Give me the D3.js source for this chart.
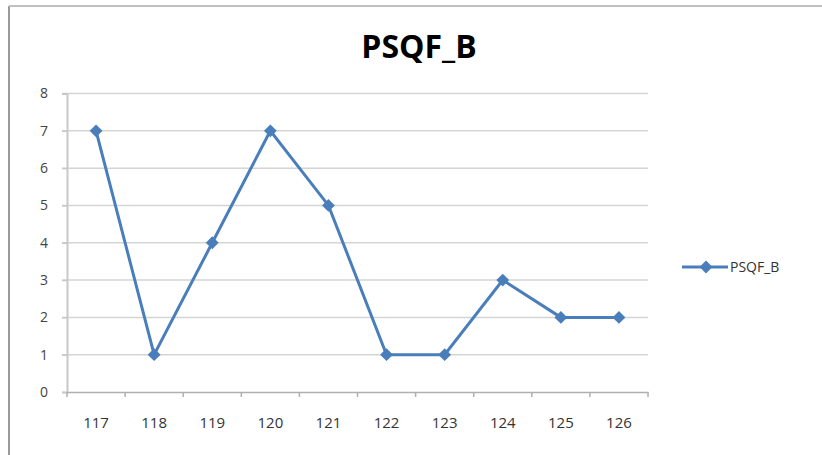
<!DOCTYPE html>
<html>
<head>
<meta charset="utf-8">
<script src="https://cdn.jsdelivr.net/npm/d3@7"></script>
<style>
  body { margin: 0; background: #fff; }
  text { font-family: "Open Sans", "DejaVu Sans", sans-serif; }
</style>
</head>
<body>
<div id="chart"></div>
<script>
// data
var categories = ["117", "118", "119", "120", "121", "122", "123", "124", "125", "126"];
var values = [7, 1, 4, 7, 5, 1, 1, 3, 2, 2];
var yTicks = [0, 1, 2, 3, 4, 5, 6, 7, 8];
var seriesName = "PSQF_B";

function draw() {
    var w = 822, h = 455;
    var svg = d3.select("#chart").append("svg")
        .attr("width", w)
        .attr("height", h);

    // outer frame (only left and top visible)
    svg.append("line").attr("x1", 9).attr("x2", 9).attr("y1", 6).attr("y2", h)
        .attr("stroke", "#9a9a9a").attr("stroke-width", 2);
    svg.append("line").attr("x1", 9).attr("x2", w).attr("y1", 6).attr("y2", 6)
        .attr("stroke", "#c0c0c0").attr("stroke-width", 2);

    // title
    svg.append("text")
        .attr("x", 419).attr("y", 58)
        .attr("text-anchor", "middle")
        .attr("font-size", 32)
        .attr("font-weight", "bold")
        .attr("fill", "#000")
        .text(seriesName);

    var left = 67, right = 648, top = 93.5, bottom = 392;

    var x = d3.scaleBand().domain(categories).range([left, right]);
    var y = d3.scaleLinear().domain([0, 8]).range([bottom, top]);

    // gridlines
    svg.append("g").selectAll("line")
        .data(yTicks.filter(function(d) { return d > 0; }))
        .enter().append("line")
        .attr("x1", left - 5).attr("x2", right)
        .attr("y1", function(d) { return y(d); })
        .attr("y2", function(d) { return y(d); })
        .attr("stroke", "#d4d4d4").attr("stroke-width", 1.5);

    // y axis
    var yAxis = svg.append("g")
        .attr("transform", "translate(" + left + ",0)")
        .call(d3.axisLeft(y).tickValues(yTicks).tickSize(5).tickPadding(14));
    yAxis.select(".domain").attr("stroke", "#c8c8c8").attr("stroke-width", 2);
    yAxis.selectAll(".tick line").attr("stroke", "#c8c8c8").attr("stroke-width", 1.5);
    yAxis.selectAll("text").attr("font-size", 14).attr("fill", "#444")
        .attr("font-family", "Open Sans, sans-serif");

    // x axis
    var xAxis = svg.append("g")
        .attr("transform", "translate(0," + bottom + ")")
        .call(d3.axisBottom(x).tickSize(0).tickPadding(25));
    xAxis.select(".domain").attr("stroke", "#b0b0b0").attr("stroke-width", 1.5);
    xAxis.selectAll("text").attr("font-size", 15).attr("fill", "#333")
        .attr("font-family", "Open Sans, sans-serif");
    // tick marks between categories
    svg.append("g").selectAll("line")
        .data(categories.concat(["end"]))
        .enter().append("line")
        .attr("x1", function(d, i) { return left + i * x.step(); })
        .attr("x2", function(d, i) { return left + i * x.step(); })
        .attr("y1", bottom).attr("y2", bottom + 5)
        .attr("stroke", "#b0b0b0").attr("stroke-width", 1.5);

    var cx = function(d, i) { return x(categories[i]) + x.bandwidth() / 2; };
    var blue = "#4a7ebb";

    // line
    var line = d3.line()
        .x(function(d, i) { return cx(d, i); })
        .y(function(d) { return y(d); });
    svg.append("path")
        .datum(values)
        .attr("d", line)
        .attr("fill", "none")
        .attr("stroke", blue)
        .attr("stroke-width", 3);

    // diamond markers
    var diamond = d3.symbol().type(d3.symbolDiamond2).size(105);
    svg.append("g").selectAll("path")
        .data(values)
        .enter().append("path")
        .attr("d", diamond)
        .attr("transform", function(d, i) { return "translate(" + cx(d, i) + "," + y(d) + ")"; })
        .attr("fill", blue);

    // legend
    var lg = svg.append("g").attr("transform", "translate(682,267)");
    lg.append("line").attr("x1", 0).attr("x2", 46).attr("y1", 0).attr("y2", 0)
        .attr("stroke", blue).attr("stroke-width", 3);
    lg.append("path").attr("d", diamond).attr("transform", "translate(24,0)")
        .attr("fill", blue);
    lg.append("text").attr("x", 48).attr("y", 5)
        .attr("font-size", 14).attr("fill", "#333")
        .text(seriesName);
}

window.onload = draw;
</script>
</body>
</html>
